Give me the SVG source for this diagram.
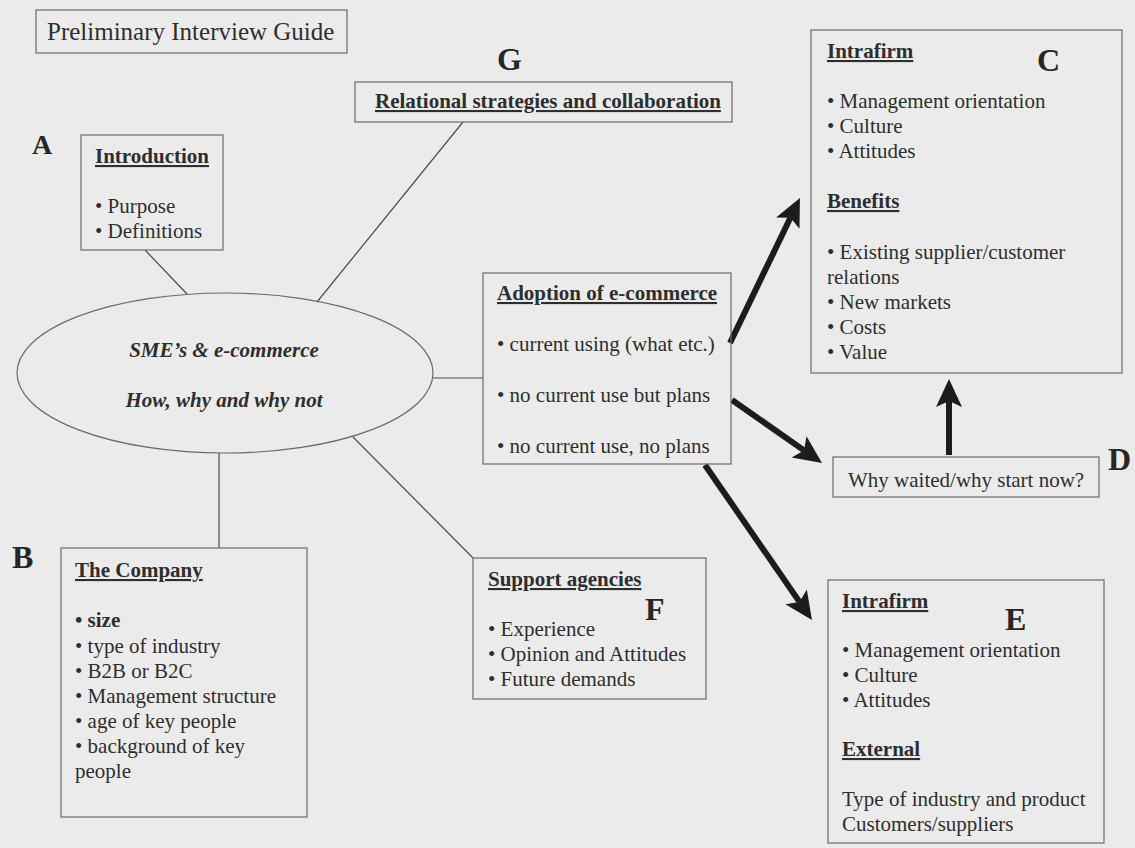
<svg xmlns="http://www.w3.org/2000/svg" width="1135" height="848" viewBox="0 0 1135 848">
<style>
  text { font-family: "Liberation Serif", "Times New Roman", serif; fill: #2e2e2e; font-size: 21px; }
  .h { font-weight: bold; text-decoration: underline; }
  .b { font-weight: bold; }
  .lt { font-weight: bold; font-size: 32px; fill: #262626; }
  .box { fill: none; stroke: #6a6a6a; stroke-width: 1.2; }
  .ln { stroke: #4a4a4a; stroke-width: 1.2; fill: none; }
  .ar { stroke: #1c1c1c; stroke-width: 6; fill: none; marker-end: url(#ah); }
</style>
<defs>
  <marker id="ah" markerWidth="30" markerHeight="28" refX="6" refY="13" orient="auto" markerUnits="userSpaceOnUse">
    <path d="M0,0 L28,13 L0,26 L6,13 z" fill="#1c1c1c"/>
  </marker>
</defs>
<rect x="0" y="0" width="1135" height="848" fill="#ebebeb"/>

<g id="connectors">
  <line class="ln" x1="145" y1="250" x2="187" y2="294"/>
  <line class="ln" x1="463" y1="122" x2="317" y2="302"/>
  <line class="ln" x1="433" y1="378" x2="483" y2="378"/>
  <line class="ln" x1="219" y1="453" x2="219" y2="548"/>
  <line class="ln" x1="353" y1="437" x2="473" y2="558"/>
  <line class="ar" x1="730" y1="343" x2="790.4" y2="217.8"/>
  <line class="ar" x1="732" y1="400" x2="804" y2="450.4"/>
  <line class="ar" x1="705" y1="465" x2="799.5" y2="601.9"/>
  <line class="ar" x1="949" y1="455" x2="949" y2="401"/>
</g>

<g id="title">
  <rect class="box" x="36" y="10" width="311" height="43"/>
  <text x="47" y="40" style="font-size:25px">Preliminary Interview Guide</text>
</g>

<g id="nodeA">
  <text class="lt" x="32" y="154" style="font-size:28px">A</text>
  <rect class="box" x="81" y="135" width="142" height="115"/>
  <text class="h" x="95" y="163">Introduction</text>
  <text x="95" y="213">• Purpose</text>
  <text x="95" y="238">• Definitions</text>
</g>

<g id="nodeG">
  <text class="lt" x="497" y="70">G</text>
  <rect class="box" x="355" y="82" width="377" height="40"/>
  <text class="h" x="375" y="108">Relational strategies and collaboration</text>
</g>

<g id="center">
  <ellipse class="box" cx="225" cy="373" rx="208" ry="80"/>
  <text x="224" y="357" text-anchor="middle" style="font-weight:bold;font-style:italic">SME’s &amp; e-commerce</text>
  <text x="224" y="407" text-anchor="middle" style="font-weight:bold;font-style:italic">How, why and why not</text>
</g>

<g id="nodeAdoption">
  <rect class="box" x="483" y="273" width="248" height="191"/>
  <text class="h" x="497" y="300">Adoption of e-commerce</text>
  <text x="497" y="351">• current using (what etc.)</text>
  <text x="497" y="402">• no current use but plans</text>
  <text x="497" y="453">• no current use, no plans</text>
</g>

<g id="nodeC">
  <rect class="box" x="811" y="30" width="311" height="343"/>
  <text class="lt" x="1037" y="71">C</text>
  <text class="h" x="827" y="58">Intrafirm</text>
  <text x="827" y="108">• Management orientation</text>
  <text x="827" y="133">• Culture</text>
  <text x="827" y="158">• Attitudes</text>
  <text class="h" x="827" y="208">Benefits</text>
  <text x="827" y="259">• Existing supplier/customer</text>
  <text x="827" y="284">relations</text>
  <text x="827" y="309">• New markets</text>
  <text x="827" y="334">• Costs</text>
  <text x="827" y="359">• Value</text>
</g>

<g id="nodeD">
  <rect class="box" x="833" y="457" width="266" height="40"/>
  <text x="848" y="487">Why waited/why start now?</text>
  <text class="lt" x="1108" y="470">D</text>
</g>

<g id="nodeB">
  <text class="lt" x="12" y="568">B</text>
  <rect class="box" x="61" y="548" width="246" height="269"/>
  <text class="h" x="75" y="577">The Company</text>
  <text x="75" y="627" class="b">• size</text>
  <text x="75" y="653">• type of industry</text>
  <text x="75" y="678">• B2B or B2C</text>
  <text x="75" y="703">• Management structure</text>
  <text x="75" y="728">• age of key people</text>
  <text x="75" y="753">• background of key</text>
  <text x="75" y="778">people</text>
</g>

<g id="nodeF">
  <rect class="box" x="473" y="558" width="233" height="141"/>
  <text class="h" x="488" y="586">Support agencies</text>
  <text class="lt" x="645" y="620">F</text>
  <text x="488" y="636">• Experience</text>
  <text x="488" y="661">• Opinion and Attitudes</text>
  <text x="488" y="686">• Future demands</text>
</g>

<g id="nodeE">
  <rect class="box" x="828" y="580" width="276" height="263"/>
  <text class="h" x="842" y="608">Intrafirm</text>
  <text class="lt" x="1005" y="630">E</text>
  <text x="842" y="657">• Management orientation</text>
  <text x="842" y="682">• Culture</text>
  <text x="842" y="707">• Attitudes</text>
  <text class="h" x="842" y="756">External</text>
  <text x="842" y="806">Type of industry and product</text>
  <text x="842" y="831">Customers/suppliers</text>
</g>
</svg>
